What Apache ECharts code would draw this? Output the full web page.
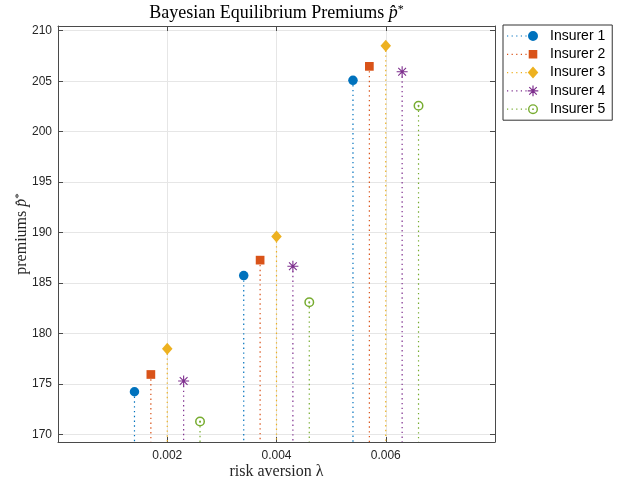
<!DOCTYPE html>
<html><head><meta charset="utf-8">
<script src="https://cdn.jsdelivr.net/npm/echarts@6/dist/echarts.min.js"></script>
<style>html,body{margin:0;padding:0;background:#fff}#c{width:626px;height:485px}</style>
</head><body><div id="c"></div>
<script>
// ---- data ----
const seriesNames = ['Insurer 1', 'Insurer 2', 'Insurer 3', 'Insurer 4', 'Insurer 5'];
const lambda1 = [0.0014, 0.0034, 0.0054];
const lambda2 = [0.0017, 0.0037, 0.0057];
const lambda3 = [0.0020, 0.0040, 0.0060];
const lambda4 = [0.0023, 0.0043, 0.0063];
const lambda5 = [0.0026, 0.0046, 0.0066];
const premium1 = [174.23, 185.74, 205.09];
const premium2 = [175.94, 187.27, 206.47];
const premium3 = [178.48, 189.60, 208.51];
const premium4 = [175.29, 186.67, 205.94];
const premium5 = [171.29, 183.10, 202.57];
const xTickLabels = ['0.002', '0.004', '0.006'];
const xRange = [0, 0.008];
const yRange = [169.25, 210.47];

// ---- styling ----
const colors = ['#0072BD', '#D95319', '#EDB120', '#7E2F8E', '#77AC30'];
const axisColor = '#4a4a4a';
const gridColor = '#e6e6e6';
const textColor = '#262626';

function circ(cx, cy, r, cw) { const s = cw ? 1 : 0; return `M${cx + r} ${cy}A${r} ${r} 0 1 ${s} ${cx - r} ${cy}A${r} ${r} 0 1 ${s} ${cx + r} ${cy}Z`; }
function sq(cx, cy, h) { return `M${cx - h} ${cy - h}H${cx + h}V${cy + h}H${cx - h}Z`; }
function dia(cx, cy, hw, hh) { return `M${cx} ${cy - hh}L${cx + hw} ${cy}L${cx} ${cy + hh}L${cx - hw} ${cy}Z`; }
function star(cx, cy, r, w) {
  const h = w / 2, d = r * Math.SQRT1_2, p = h * Math.SQRT1_2;
  return `M${cx - h} ${cy - r}H${cx + h}V${cy + r}H${cx - h}Z` +
    `M${cx - r} ${cy - h}H${cx + r}V${cy + h}H${cx - r}Z` +
    `M${cx - d + p} ${cy - d - p}L${cx + d + p} ${cy + d - p}L${cx + d - p} ${cy + d + p}L${cx - d - p} ${cy - d + p}Z` +
    `M${cx - d - p} ${cy + d - p}L${cx + d - p} ${cy - d - p}L${cx + d + p} ${cy - d + p}L${cx - d + p} ${cy + d + p}Z`;
}
function ring(cx, cy, r, t, dot) { return circ(cx, cy, r, true) + circ(cx, cy, r - t, false) + circ(cx, cy, dot, true); }

const chartSymbols = ['circle', 'rect', 'diamond', 'path://' + star(10, 10, 10, 2), 'path://' + ring(10, 10, 10, 3, 2)];
const chartSizes = [9.5, 8.7, [10.5, 12], 11, 10];

const LW = 38, LH = 12, MC = 26;
function legendMarker(i) {
  const cy = LH / 2;
  if (i === 0) return circ(MC, cy, 5, true);
  if (i === 1) return sq(MC, cy, 4.3);
  if (i === 2) return dia(MC, cy, 5.3, 6);
  if (i === 3) return star(MC, cy, 5.3, 1.2);
  return ring(MC, cy, 5, 1.4, 0.9);
}
function legendIcon(i) {
  let d = `M0 0M${LW} ${LH}`;
  [0, 4.6, 9.2, 13.8, 18.4].forEach(x => { d += `M${x} ${LH / 2 - 0.6}H${x + 1.2}V${LH / 2 + 0.6}H${x}Z`; });
  return 'path://' + d + legendMarker(i);
}

const lambdas = [lambda1, lambda2, lambda3, lambda4, lambda5];
const premiums = [premium1, premium2, premium3, premium4, premium5];

const series = [];
seriesNames.forEach((n, i) => {
  const data = lambdas[i].map((x, k) => [x, premiums[i][k]]);
  series.push({
    type: 'custom', name: n + ' stem', data: data, z: 2, silent: true,
    renderItem: function (params, api) {
      const p = api.coord([api.value(0), api.value(1)]);
      const cs = params.coordSys;
      return { type: 'line', shape: { x1: p[0], y1: p[1], x2: p[0], y2: cs.y + cs.height },
        style: { stroke: colors[i], lineWidth: 1.2, lineDash: [1.4, 3.4] } };
    }
  });
});
seriesNames.forEach((n, i) => {
  series.push({
    type: 'scatter', name: n, z: 4, silent: true,
    data: lambdas[i].map((x, k) => [x, premiums[i][k]]),
    symbol: chartSymbols[i], symbolSize: chartSizes[i],
    itemStyle: { color: colors[i], opacity: 1 }
  });
});

const commonAxisLine = { onZero: false, lineStyle: { color: axisColor, width: 1 } };
const commonTick = { inside: true, length: 5, lineStyle: { color: axisColor, width: 1 } };

const option = {
  animation: false,
  backgroundColor: '#fff',
  grid: { left: 58, right: 131, top: 26, bottom: 43, containLabel: false },
  xAxis: [
    { type: 'value', position: 'bottom', min: xRange[0], max: xRange[1], interval: 0.002,
      axisLine: commonAxisLine, axisTick: commonTick,
      axisLabel: { color: textColor, fontSize: 12, fontFamily: 'Liberation Sans', margin: 8,
        showMinLabel: false, showMaxLabel: false,
        formatter: v => { const s = v.toFixed(3); return xTickLabels.indexOf(s) >= 0 ? s : ''; } },
      splitLine: { show: true, lineStyle: { color: gridColor, width: 1 } },
      name: 'risk aversion λ', nameLocation: 'middle', nameGap: 22, nameMoveOverlap: false,
      nameTextStyle: { fontFamily: 'Liberation Serif', fontSize: 16, color: textColor } },
    { type: 'value', position: 'top', min: xRange[0], max: xRange[1], interval: 0.002,
      axisLine: commonAxisLine, axisTick: commonTick, axisLabel: { show: false }, splitLine: { show: false } }
  ],
  yAxis: [
    { type: 'value', position: 'left', min: yRange[0], max: yRange[1], splitNumber: 8,
      axisLine: commonAxisLine, axisTick: commonTick,
      axisLabel: { color: textColor, fontSize: 12, fontFamily: 'Liberation Sans', margin: 6,
        showMinLabel: false, showMaxLabel: false },
      splitLine: { show: true, lineStyle: { color: gridColor, width: 1 } },
      name: 'premiums {i|p\u0302}{s|*}', nameLocation: 'middle', nameGap: 28, nameMoveOverlap: false,
      nameTextStyle: { fontFamily: 'Liberation Serif', fontSize: 16, color: textColor,
        rich: { i: { fontFamily: 'Liberation Serif', fontSize: 16, fontStyle: 'italic', color: textColor },
                s: { fontFamily: 'Liberation Serif', fontSize: 11, color: textColor, verticalAlign: 'top' } } } },
    { type: 'value', position: 'right', min: yRange[0], max: yRange[1], splitNumber: 8,
      axisLine: commonAxisLine, axisTick: commonTick, axisLabel: { show: false }, splitLine: { show: false } }
  ],
  legend: {
    orient: 'vertical', left: 503, top: 25,
    padding: [4, 7, 4, 4], itemGap: 4.3, itemWidth: LW, itemHeight: LH,
    backgroundColor: '#fff', borderColor: '#333', borderWidth: 1, borderRadius: 0,
    selectedMode: false,
    textStyle: { fontFamily: 'Liberation Sans', fontSize: 14, color: '#000', padding: [0, 0, 0, 0] },
    data: seriesNames.map((n, i) => ({ name: n, icon: legendIcon(i) }))
  },
  graphic: [{
    type: 'text', x: 276.5, y: 13, silent: true,
    style: {
      text: 'Bayesian Equilibrium Premiums {i|p\u0302}{s|*}',
      fontFamily: 'Liberation Serif', fontSize: 18, fill: '#000',
      align: 'center', verticalAlign: 'middle',
      rich: { i: { fontFamily: 'Liberation Serif', fontSize: 18, fontStyle: 'italic', fill: '#000' },
              s: { fontFamily: 'Liberation Serif', fontSize: 12, fill: '#000', verticalAlign: 'top' } }
    }
  }],
  series: series
};
const chart = echarts.init(document.getElementById('c'), null, { renderer: 'canvas' });
chart.setOption(option);
</script></body></html>
